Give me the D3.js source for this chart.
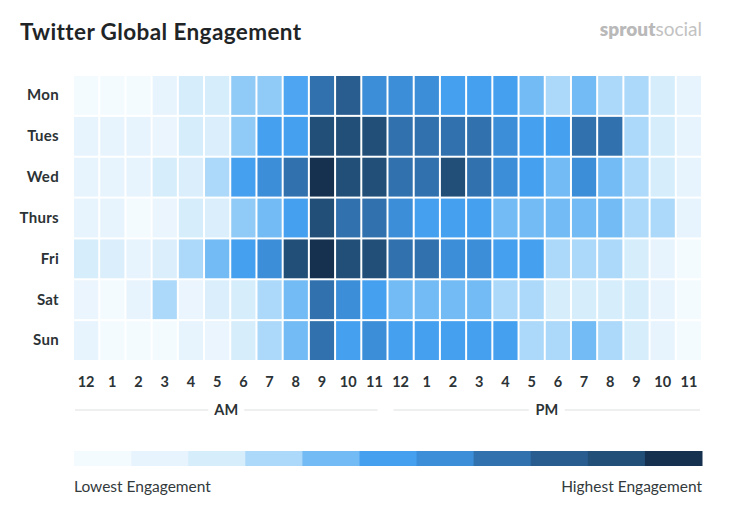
<!DOCTYPE html>
<html>
<head>
<meta charset="utf-8">
<script src="https://cdn.jsdelivr.net/npm/d3@7"></script>
<style>
  html, body { margin: 0; padding: 0; background: #ffffff; }
  svg { display: block; }
</style>
</head>
<body>
<svg id="chart" width="733" height="517"></svg>
<script>
// ---------- DATA (engagement level, 0 = lowest … 10 = highest) ----------
const days = ["Mon", "Tues", "Wed", "Thurs", "Fri", "Sat", "Sun"];
const hourLabels = ["12","1","2","3","4","5","6","7","8","9","10","11",
                    "12","1","2","3","4","5","6","7","8","9","10","11"];
const mon   = [0,0,0,1,2,2,3.5,3.5,4.8,7,8,6, 6,6,5,5,5,4,3,4,3,3,2,1];
const tues  = [1,1,1,0.8,2,1.8,3.5,5,5,9,9,9, 7,7,7,7,6,5,5,7,7,3,2,1];
const wed   = [1,1,1,2,1.8,3,5,6,7,10,9,9, 7,7,9,7,6,5,4,6,4,3,2,1];
const thurs = [1,1,0,0.8,2,1.8,3.5,4,5,9,7,7, 6,5,5,5,4,4,4,4,4,3,3,1];
const fri   = [2,1.8,1,1.8,3,4,5,6,9,10,9,9, 7,7,6,6,5,5,3,3,3,2,1,0];
const sat   = [0.8,0,1,3,0.8,1.8,2,3,4,7,6,5, 4,4,4,4,3,3,2,2,2,2,1,0];
const sun   = [1,0,0,0,1,0.8,2,3,4,7,5,6, 5,5,5,5,5,3,3,4,3,2,1,0];
const rows  = [mon, tues, wed, thurs, fri, sat, sun];
const levels = [0,1,2,3,4,5,6,7,8,9,10];
const palette = ["#f4fbff","#e8f4fd","#d6edfc","#acd8f9","#73bbf4","#45a0f0",
                 "#3d8ed8","#3071ae","#295d8f","#214f78","#16314f"];
const periods = ["AM", "PM"];

// ---------- LAYOUT ----------
const svg = d3.select("#chart");
const fontMain = "Lato, 'Open Sans', 'DejaVu Sans', sans-serif";
const gridLeft = 73, gridRight = 702, gridTop = 75, gridBottom = 361;

const x = d3.scaleBand().domain(d3.range(24)).range([gridLeft, gridRight]);
const y = d3.scaleBand().domain(days).range([gridTop, gridBottom]);
const color = d3.scaleLinear().domain(levels).range(palette).interpolate(d3.interpolateRgb).clamp(true);

// Title
svg.append("text")
  .attr("x", 20).attr("y", 40)
  .attr("font-family", fontMain).attr("font-weight", 700)
  .attr("font-size", 22.5).attr("letter-spacing", 0.4).attr("fill", "#1f2527")
  .text("Twitter Global Engagement");

// Logo
const logo = svg.append("text")
  .attr("x", 702).attr("y", 36).attr("text-anchor", "end")
  .attr("font-family", fontMain).attr("font-size", 19).attr("fill", "#b9b9b9");
logo.append("tspan").attr("font-weight", 800).text("sprout");
logo.append("tspan").attr("font-weight", 400).attr("fill", "#c2c2c2").text("social");

// Cells
const cells = [];
rows.forEach((r, i) => r.forEach((v, h) => cells.push({day: days[i], hour: h, v})));
svg.append("g").selectAll("rect").data(cells).join("rect")
  .attr("x", d => x(d.hour) + 1)
  .attr("y", d => y(d.day) + 1)
  .attr("width", x.bandwidth() - 2)
  .attr("height", y.bandwidth() - 2)
  .attr("fill", d => color(d.v));

// Row labels
const yAxis = d3.axisLeft(y).tickSize(0).tickPadding(14);
const ya = svg.append("g").attr("transform", `translate(${gridLeft},0)`).call(yAxis);
ya.select(".domain").remove();
ya.selectAll("text")
  .attr("font-family", fontMain).attr("font-weight", 700)
  .attr("font-size", 15).attr("letter-spacing", 0.3).attr("fill", "#2c3336");

// Hour labels
const xAxis = d3.axisBottom(x).tickSize(0).tickPadding(16).tickFormat(i => hourLabels[i]);
const xa = svg.append("g").attr("transform", `translate(0,${gridBottom})`).call(xAxis);
xa.select(".domain").remove();
xa.selectAll("text")
  .attr("font-family", fontMain).attr("font-weight", 700)
  .attr("font-size", 14.5).attr("fill", "#2c3336");

// AM / PM bands
const bands = periods.map((p, i) => ({
  label: p,
  x0: x(i * 12) + 2,
  x1: x(i * 12 + 11) + x.bandwidth() - 2 - (i === 0 ? 8 : 0)
}));
bands[1].x0 = x(12) + 6;
const bandY = 410;
const bg = svg.append("g").selectAll("g").data(bands).join("g");
bg.append("line")
  .attr("x1", d => d.x0).attr("x2", d => d.x1)
  .attr("y1", bandY).attr("y2", bandY)
  .attr("stroke", "#e9eaea").attr("stroke-width", 1.5);
bg.append("rect")
  .attr("x", d => (d.x0 + d.x1) / 2 - 18).attr("y", bandY - 8)
  .attr("width", 36).attr("height", 16).attr("fill", "#ffffff");
bg.append("text")
  .attr("x", d => (d.x0 + d.x1) / 2).attr("y", bandY + 5)
  .attr("text-anchor", "middle")
  .attr("font-family", fontMain).attr("font-weight", 700)
  .attr("font-size", 14.5).attr("fill", "#2c3336")
  .text(d => d.label);

// Legend
const lx = d3.scaleBand().domain(levels).range([74, 702]);
svg.append("g").selectAll("rect").data(levels).join("rect")
  .attr("x", d => lx(d)).attr("y", 451)
  .attr("width", lx.bandwidth() + 0.5).attr("height", 15)
  .attr("fill", d => color(d));

svg.append("text")
  .attr("x", 74).attr("y", 492)
  .attr("font-family", fontMain).attr("font-size", 15.5).attr("fill", "#333a3c")
  .text("Lowest Engagement");
svg.append("text")
  .attr("x", 702).attr("y", 492).attr("text-anchor", "end")
  .attr("font-family", fontMain).attr("font-size", 15.5).attr("fill", "#333a3c")
  .text("Highest Engagement");
</script>
</body>
</html>
